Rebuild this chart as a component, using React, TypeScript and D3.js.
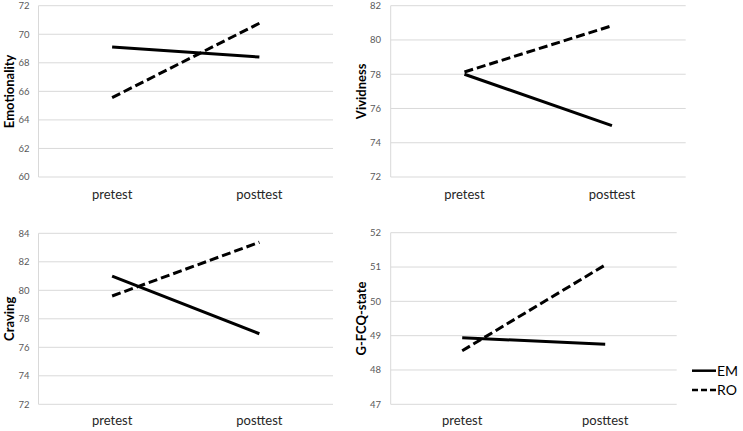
import React from "react";
import * as d3 from "d3";

const categories = ["pretest", "posttest"];
const seriesNames = ["EM", "RO"];
const titles = ["Emotionality", "Vividness", "Craving", "G-FCQ-state"];
const domains: [number, number][] = [[60, 72], [72, 82], [72, 84], [47, 52]];
const tickSteps = [2, 2, 2, 1];
const emValues = [[69.1, 68.4], [78.0, 75.0], [81.0, 76.95], [48.94, 48.75]];
const roValues = [[65.56, 70.77], [78.13, 80.83], [79.6, 83.37], [48.56, 51.06]];

const layout = [
  { x0: 38.5, x1: 333, y0: 5.7, y1: 177, titleX: 9, tickX: 29.5, labelY: 199 },
  { x0: 390.7, x1: 685.7, y0: 5.7, y1: 177, titleX: 361, tickX: 381, labelY: 199 },
  { x0: 38.5, x1: 333, y0: 233.3, y1: 404.3, titleX: 9, tickX: 29.5, labelY: 425 },
  { x0: 390.7, x1: 676.7, y0: 232.7, y1: 404.3, titleX: 361, tickX: 381, labelY: 425 },
];

const FONT = "Lato, 'Open Sans', sans-serif";

function Panel({ i }: { i: number }) {
  const L = layout[i];
  const x = d3.scaleBand<string>().domain(categories).range([L.x0, L.x1]);
  const y = d3.scaleLinear().domain(domains[i]).range([L.y1, L.y0]);
  const ticks = d3.range(domains[i][0], domains[i][1] + 1e-9, tickSteps[i]);
  const line = d3
    .line<number>()
    .x((_, k) => (x(categories[k]) as number) + x.bandwidth() / 2)
    .y((v) => y(v));
  const data = [emValues[i], roValues[i]];
  return (
    <g>
      {ticks.map((t) => (
        <g key={t}>
          <line x1={L.x0} x2={L.x1} y1={y(t)} y2={y(t)} stroke="#d9d9d9" strokeWidth={1} />
          <text
            x={L.tickX}
            y={y(t)}
            dy="0.35em"
            textAnchor="end"
            fontSize={9.5}
            fill="#595959"
            fontFamily={FONT}
          >
            {t}
          </text>
        </g>
      ))}
      <line x1={L.x0} x2={L.x0} y1={L.y0} y2={L.y1} stroke="#d9d9d9" strokeWidth={1} />
      {categories.map((c) => (
        <text
          key={c}
          x={(x(c) as number) + x.bandwidth() / 2}
          y={L.labelY}
          textAnchor="middle"
          fontSize={13}
          fill="#262626"
          fontFamily={FONT}
        >
          {c}
        </text>
      ))}
      <text
        transform={`translate(${L.titleX},${(L.y0 + L.y1) / 2}) rotate(-90)`}
        textAnchor="middle"
        dy="0.35em"
        fontSize={13}
        fontWeight="bold"
        fill="#000"
        fontFamily={FONT}
      >
        {titles[i]}
      </text>
      {data.map((vals, s) => (
        <path
          key={seriesNames[s]}
          d={line(vals) as string}
          fill="none"
          stroke="#000"
          strokeWidth={3}
          strokeDasharray={s === 1 ? "9,4" : undefined}
        />
      ))}
    </g>
  );
}

export default function App() {
  const legendY = [370.7, 390];
  return (
    <svg
      width={743}
      height={431}
      style={{ position: "absolute", left: 0, top: 0, background: "#fff" }}
    >
      <rect width={743} height={431} fill="#fff" />
      {titles.map((_, i) => (
        <Panel key={i} i={i} />
      ))}
      {seriesNames.map((n, s) => (
        <g key={n}>
          <line
            x1={692}
            x2={716}
            y1={legendY[s]}
            y2={legendY[s]}
            stroke="#000"
            strokeWidth={2.5}
            strokeDasharray={s === 1 ? "6,3" : undefined}
          />
          <text
            x={717}
            y={legendY[s]}
            dy="0.35em"
            fontSize={14}
            fill="#000"
            fontFamily={FONT}
          >
            {n}
          </text>
        </g>
      ))}
    </svg>
  );
}
